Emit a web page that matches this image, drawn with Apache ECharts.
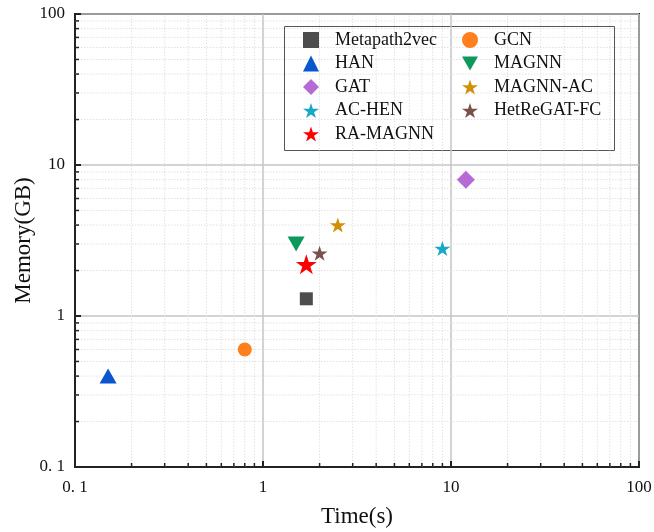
<!DOCTYPE html>
<html>
<head>
<meta charset="utf-8">
<script src="https://cdn.jsdelivr.net/npm/echarts@6.0.0/dist/echarts.min.js"></script>
<style>
html, body { margin: 0; padding: 0; background: #fff; }
#chart { width: 654px; height: 532px; }
</style>
</head>
<body>
<div id="chart"></div>
<script>
// values (log-log)
const methods = ['Metapath2vec', 'HAN', 'GAT', 'AC-HEN', 'RA-MAGNN', 'GCN', 'MAGNN', 'MAGNN-AC', 'HetReGAT-FC'];
const timeSec = [1.7, 0.15, 12, 9, 1.7, 0.8, 1.5, 2.5, 2];
const memoryGB = [1.3, 0.4, 8, 2.8, 2.2, 0.6, 3, 4, 2.6];
const tickValues = [0.1, 1, 10, 100];
const tickLabels = ['0. 1', '1', '10', '100'];
const minorTicks = [0.2, 0.3, 0.4, 0.5, 0.6, 0.7, 0.8, 0.9, 2, 3, 4, 5, 6, 7, 8, 9, 20, 30, 40, 50, 60, 70, 80, 90];

const STAR = 'path://M50,0 L61.23,34.55 L97.55,34.55 L68.17,55.9 L79.39,90.45 L50,69.1 L20.61,90.45 L31.83,55.9 L2.45,34.55 L38.77,34.55 Z';
const TRI_DOWN = 'path://M0,0 L100,0 L50,88 Z';
const FONT = 'Liberation Serif';

const looks = {
    'Metapath2vec': {color: '#4d4d4d', symbol: 'rect', size: 13},
    'HAN': {color: '#0a55d0', symbol: 'triangle', size: [17, 15]},
    'GAT': {color: '#b56ad6', symbol: 'diamond', size: 18},
    'AC-HEN': {color: '#18a6c9', symbol: STAR, size: [16, 15]},
    'RA-MAGNN': {color: '#ff0000', symbol: STAR, size: [21, 20]},
    'GCN': {color: '#ff7f1e', symbol: 'circle', size: 14},
    'MAGNN': {color: '#0c9a5c', symbol: TRI_DOWN, size: [17, 15]},
    'MAGNN-AC': {color: '#d18f05', symbol: STAR, size: [16, 15]},
    'HetReGAT-FC': {color: '#7b4f4b', symbol: STAR, size: [16, 15]}
};

function tickText(v) {
    for (let i = 0; i < tickValues.length; i++) {
        if (Math.abs(v - tickValues[i]) < 1e-9 * tickValues[i]) return tickLabels[i];
    }
    return '';
}

function logAxis(extra) {
    return Object.assign({
        type: 'log',
        logBase: 10,
        min: 0.1,
        max: 100,
        nameLocation: 'middle',
        nameMoveOverlap: false,
        nameTextStyle: {fontFamily: FONT, fontSize: 23, color: '#111'},
        axisLine: {show: true, lineStyle: {color: '#222', width: 2}},
        axisTick: {show: true, inside: true, length: 6, lineStyle: {color: '#222', width: 2}},
        splitLine: {show: true, lineStyle: {color: '#c4c4c4', width: 1.5}}
    }, extra);
}

// minor grid + minor ticks, placed through the log axes
function minorRender(vertical) {
    return function (params, api) {
        const v = api.value(vertical ? 0 : 1);
        let a, b, t;
        if (vertical) {
            a = api.coord([v, 0.1]);
            b = api.coord([v, 100]);
            t = [a[0], a[1] - 4];
        } else {
            a = api.coord([0.1, v]);
            b = api.coord([100, v]);
            t = [a[0] + 4, a[1]];
        }
        return {
            type: 'group',
            children: [
                {type: 'line', shape: {x1: a[0], y1: a[1], x2: b[0], y2: b[1]},
                    style: {stroke: '#e2e2e2', lineWidth: 1, lineDash: [1.5, 1.5]}},
                {type: 'line', shape: {x1: a[0], y1: a[1], x2: t[0], y2: t[1]},
                    style: {stroke: '#222', lineWidth: 1.5}}
            ]
        };
    };
}

const series = [
    {type: 'custom', silent: true, z: 1, renderItem: minorRender(true),
        data: minorTicks.map(function (v) { return [v, 1]; })},
    {type: 'custom', silent: true, z: 1, renderItem: minorRender(false),
        data: minorTicks.map(function (v) { return [1, v]; })}
].concat(methods.map(function (name, i) {
    const lk = looks[name];
    return {
        name: name,
        type: 'scatter',
        z: 3,
        symbol: lk.symbol,
        symbolSize: lk.size,
        itemStyle: {color: lk.color, opacity: 1},
        data: [[timeSec[i], memoryGB[i]]]
    };
}));

const legendText = {fontFamily: FONT, fontSize: 18, color: '#111', padding: [0, 0, 0, 11]};

const chart = echarts.init(document.getElementById('chart'));
chart.setOption({
    animation: false,
    grid: {
        left: 75, right: 15, top: 14, bottom: 65, outerBoundsMode: 'none',
        show: true, borderColor: '#222', borderWidth: 2, backgroundColor: 'transparent'
    },
    xAxis: logAxis({name: 'Time(s)', nameGap: 38, axisLabel: {fontFamily: FONT, fontSize: 17, color: '#111', formatter: tickText, margin: 12}}),
    yAxis: logAxis({name: 'Memory(GB)', nameGap: 40, axisLabel: {fontFamily: FONT, fontSize: 17, color: '#111', formatter: tickText, margin: 10}}),
    legend: [
        {
            orient: 'vertical', left: 298, top: 26, itemWidth: 16, itemHeight: 16, itemGap: 5.5,
            textStyle: legendText, data: methods.slice(0, 5)
        },
        {
            orient: 'vertical', left: 457, top: 26, itemWidth: 16, itemHeight: 16, itemGap: 5.5,
            textStyle: legendText, data: methods.slice(5)
        }
    ],
    graphic: [{
        type: 'rect', left: 282, top: 24,
        shape: {width: 330, height: 124},
        style: {fill: 'none', stroke: '#555', lineWidth: 1}
    }],
    series: series
});
</script>
</body>
</html>
